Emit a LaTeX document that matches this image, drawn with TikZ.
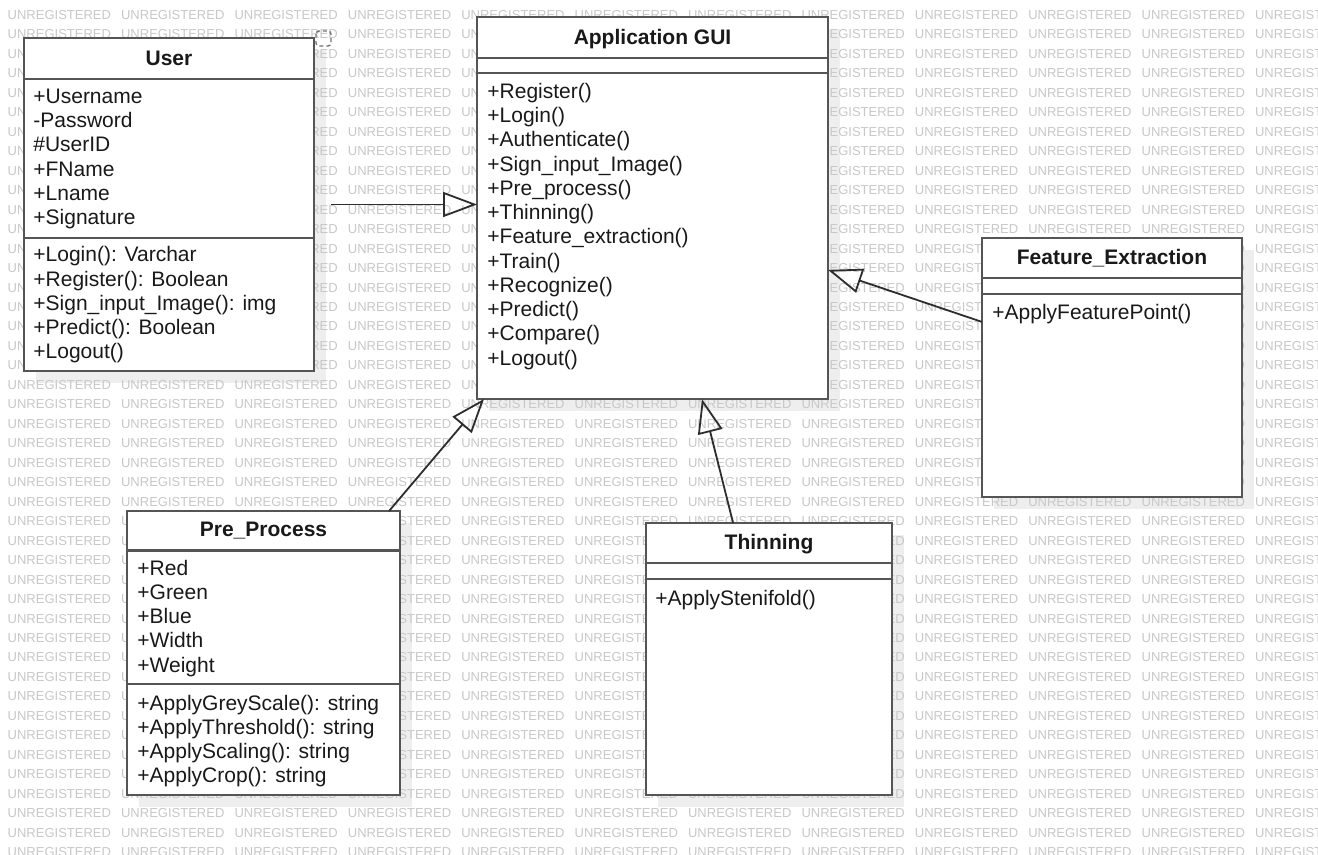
\documentclass[tikz,border=0pt]{standalone}
\usepackage{fontspec}
\setmainfont{Liberation Sans}
\usetikzlibrary{arrows.meta,calc}
\definecolor{boxc}{RGB}{85,85,85}
\definecolor{txtc}{RGB}{25,25,25}
\definecolor{linec}{RGB}{45,45,45}
\definecolor{wmc}{RGB}{200,200,200}
\definecolor{shadc}{RGB}{238,238,238}
\newcommand\umlfont{\fontsize{10.5pt}{12.125pt}\selectfont}
\newcommand\wmfont{\fontsize{6.5pt}{7pt}\selectfont}
\pgfdeclarelayer{bg}
\pgfsetlayers{bg,main}
\begin{document}
\begin{tikzpicture}[x=0.5pt,y=-0.5pt,
  cls/.style={draw=boxc, line width=1.2pt, fill=white, inner sep=0pt, outer sep=0pt},
  boxshadow/.style={fill=shadc},
  sepline/.style={draw=boxc, line width=1.2pt},
  % multi-line member lists are placed by the baseline of their last line
  member/.style={anchor=base west, inner sep=0pt, align=left, font=\umlfont, text=txtc},
  clstitle/.style={anchor=base, inner sep=0pt, font=\umlfont\bfseries, text=txtc},
  wm/.style={anchor=west, inner sep=0pt, font=\wmfont, text=wmc},
  gen/.style={draw=linec, line width=0.9pt, -{Triangle[open, length=17pt, width=12.5pt]}},
  handle/.style={draw=black!55, line width=0.7pt, dash pattern=on 2pt off 1.5pt, rounded corners=1.5pt}
]
\useasboundingbox (0,0) rectangle (1318,855);

% ---------- class boxes ----------
\node[cls, minimum width=145pt, minimum height=166.5pt] (user) at (169,204.5) {};
\node[cls, minimum width=175.5pt, minimum height=191pt] (gui) at (652.5,208) {};
\node[cls, minimum width=130pt, minimum height=129.5pt] (fe) at (1112,367.5) {};
\node[cls, minimum width=136.5pt, minimum height=142pt] (pre) at (263.5,653) {};
\node[cls, minimum width=123pt, minimum height=136pt] (thin) at (769,659) {};

% ---------- backdrop: paper, shadows, watermark ----------
\begin{pgfonlayer}{bg}
  \fill[white] (0,0) rectangle (1318,855);
  \foreach \b in {user,gui,fe,pre,thin}
    \fill[boxshadow] ([shift={(6pt,-6pt)}]\b.north west) rectangle ([shift={(6pt,-6pt)}]\b.south east);
  \foreach \i in {0,...,11}
    \foreach \j in {0,...,43}
      \node[wm] (wm-\i-\j) at ({7.3+113.4*\i},{15+19.47*\j}) {UNREGISTERED};
\end{pgfonlayer}

% ---------- User ----------
\draw[sepline] (user.west |- 0,79) -- (user.east |- 0,79);
\draw[sepline] (user.west |- 0,238) -- (user.east |- 0,238);
\node[clstitle] (user-t) at (169,66) {User};
\node[member] (user-a) at (33,224.75) {+Username\\-Password\\\#UserID\\+FName\\+Lname\\+Signature};
\node[member] (user-m) at (33,359) {+Login(): Varchar\\+Register(): Boolean\\+Sign\_input\_Image(): img\\+Predict(): Boolean\\+Logout()};
\draw[handle] (316,31) rectangle (331,46);

% ---------- Application GUI ----------
\draw[sepline] (gui.west |- 0,58) -- (gui.east |- 0,58);
\draw[sepline] (gui.west |- 0,73) -- (gui.east |- 0,73);
\node[clstitle] (gui-t) at (652.5,44.5) {Application GUI};
\node[member] (gui-m) at (487,365.25) {+Register()\\+Login()\\+Authenticate()\\+Sign\_input\_Image()\\+Pre\_process()\\+Thinning()\\+Feature\_extraction()\\+Train()\\+Recognize()\\+Predict()\\+Compare()\\+Logout()};

% ---------- Feature_Extraction ----------
\draw[sepline] (fe.west |- 0,278) -- (fe.east |- 0,278);
\draw[sepline] (fe.west |- 0,294) -- (fe.east |- 0,294);
\node[clstitle] (fe-t) at (1112,265) {Feature\_Extraction};
\node[member] (fe-m) at (992,319.3) {+ApplyFeaturePoint()};

% ---------- Pre_Process ----------
\draw[sepline] (pre.west |- 0,550.7) -- (pre.east |- 0,550.7);
\draw[sepline] (pre.west |- 0,684) -- (pre.east |- 0,684);
\node[clstitle] (pre-t) at (263.5,536.7) {Pre\_Process};
\node[member] (pre-a) at (137,672) {+Red\\+Green\\+Blue\\+Width\\+Weight};
\node[member] (pre-m) at (137,782.75) {+ApplyGreyScale(): string\\+ApplyThreshold(): string\\+ApplyScaling(): string\\+ApplyCrop(): string};

% ---------- Thinning ----------
\draw[sepline] (thin.west |- 0,563) -- (thin.east |- 0,563);
\draw[sepline] (thin.west |- 0,579) -- (thin.east |- 0,579);
\node[clstitle] (thin-t) at (769,550) {Thinning};
\node[member] (thin-m) at (655,605.7) {+ApplyStenifold()};

% ---------- generalizations ----------
\coordinate (user-out) at ([xshift=8.5pt]user.east);
\draw[gen] (user-out) -- (user-out -| gui.west);
\draw[gen] ($(pre.north west)!0.96!(pre.north east)$) -- ($(gui.south west)!0.02!(gui.south east)$);
\draw[gen] ($(thin.north west)!0.354!(thin.north east)$) -- ($(gui.south west)!0.641!(gui.south east)$);
\draw[gen] ($(fe.north west)!0.324!(fe.south west)$) -- ($(gui.north east)!0.662!(gui.south east)$);
\end{tikzpicture}
\end{document}
